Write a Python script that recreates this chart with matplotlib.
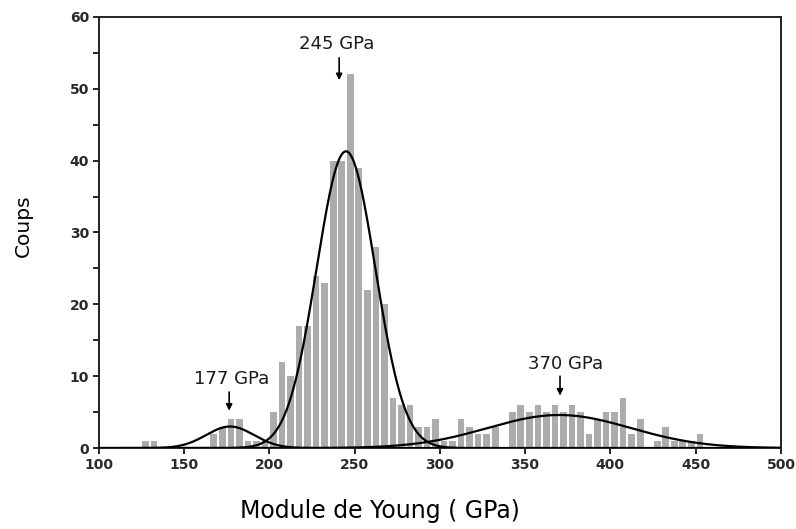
import numpy as np
import matplotlib
matplotlib.use("Agg")
import matplotlib.pyplot as plt
from matplotlib.ticker import MultipleLocator

# Histogram of Young's modulus values (5 GPa bins, centres listed)
bin_centers = [127.5, 132.5, 137.5, 142.5, 147.5, 152.5, 157.5, 162.5, 167.5, 172.5,
               177.5, 182.5, 187.5, 192.5, 197.5, 202.5, 207.5, 212.5, 217.5, 222.5,
               227.5, 232.5, 237.5, 242.5, 247.5, 252.5, 257.5, 262.5, 267.5, 272.5,
               277.5, 282.5, 287.5, 292.5, 297.5, 302.5, 307.5, 312.5, 317.5, 322.5,
               327.5, 332.5, 337.5, 342.5, 347.5, 352.5, 357.5, 362.5, 367.5, 372.5,
               377.5, 382.5, 387.5, 392.5, 397.5, 402.5, 407.5, 412.5, 417.5, 422.5,
               427.5, 432.5, 437.5, 442.5, 447.5, 452.5]
counts = [1, 1, 0, 0, 0, 0, 0, 0, 2, 3,
          4, 4, 1, 1, 1, 5, 12, 10, 17, 17,
          24, 23, 40, 40, 52, 39, 22, 28, 20, 7,
          6, 6, 3, 3, 4, 1, 1, 4, 3, 2,
          2, 3, 0, 5, 6, 5, 6, 5, 6, 5,
          6, 5, 2, 4, 5, 5, 7, 2, 4, 0,
          1, 3, 1, 1, 1, 2]

# Gaussian components: centre (GPa), amplitude (counts), sigma (GPa)
peak_centers = [177, 245, 370]
peak_heights = [3.0, 41.3, 4.6]
peak_sigmas = [14.0, 17.2, 42.0]
peak_labels = ["177 GPa", "245 GPa", "370 GPa"]

# Arrow position and label placement for each peak (data units)
arrow_x = [176.5, 241.0, 370.5]
arrow_top = [7.8, 54.3, 10.0]
arrow_tip = [5.2, 51.2, 7.3]
label_x = [178.0, 239.5, 374.0]
label_y = [9.6, 56.2, 11.7]

TICK_FONT = "DejaVu Sans"

fig = plt.figure(figsize=(7.96, 5.29), dpi=100)
ax = fig.add_axes([0.124, 0.153, 0.857, 0.815])

ax.bar(bin_centers, counts, width=3.9, color="#acacac", edgecolor="none", zorder=1)

xs = np.linspace(100, 500, 1200)
for c, h, s in zip(peak_centers, peak_heights, peak_sigmas):
    ax.plot(xs, h * np.exp(-(xs - c) ** 2 / (2 * s ** 2)), color="black", lw=1.6, zorder=3)

for ax_x, yt, yb, lx, ly, txt in zip(arrow_x, arrow_top, arrow_tip, label_x, label_y, peak_labels):
    ax.annotate("", xy=(ax_x, yb), xytext=(ax_x, yt),
                arrowprops=dict(arrowstyle="-|>", color="black", lw=1.2,
                                mutation_scale=9, shrinkA=0, shrinkB=0), zorder=4)
    ax.text(lx, ly, txt, ha="center", va="center", fontsize=13,
            family=TICK_FONT, color="#1a1a1a")

ax.set_xlim(100, 500)
ax.set_ylim(0, 60)
ax.xaxis.set_major_locator(MultipleLocator(50))
ax.yaxis.set_major_locator(MultipleLocator(10))
ax.yaxis.set_minor_locator(MultipleLocator(5))
ax.tick_params(axis="both", which="both", direction="out", length=4, width=1.2,
               labelsize=10, pad=3)
for lab in ax.get_xticklabels() + ax.get_yticklabels():
    lab.set_family(TICK_FONT)
    lab.set_fontweight("bold")
    lab.set_color("#2a2a2a")
for sp in ax.spines.values():
    sp.set_linewidth(1.4)
    sp.set_color("#222222")

fig.text(380 / 796, 1 - 511 / 529, "Module de Young ( GPa)", ha="center", va="center",
         fontsize=17, family="DejaVu Sans")
fig.text(23 / 796, 1 - 226 / 529, "Coups", ha="center", va="center", rotation=90,
         fontsize=14.5, family="DejaVu Sans")

fig.savefig("out.png", dpi=100)
